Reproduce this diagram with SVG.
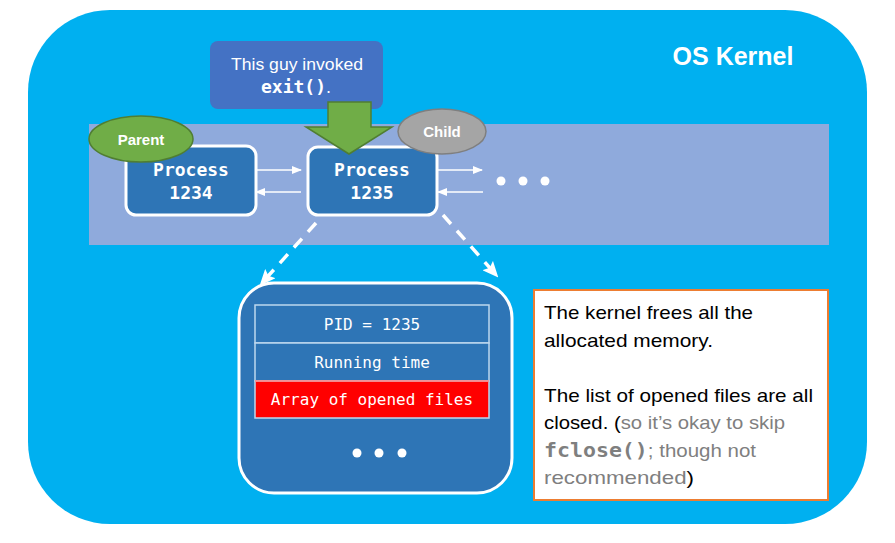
<svg xmlns="http://www.w3.org/2000/svg" width="895" height="543" viewBox="0 0 895 543">
<defs>
<style>
.proc{fill:#2E75B6;stroke:#FFFFFF;stroke-width:3}
.ptxt{font-family:"DejaVu Sans Mono","Liberation Mono",monospace;font-weight:bold;font-size:18px;fill:#FFFFFF;text-anchor:middle}
.ttxt{font-family:"DejaVu Sans Mono","Liberation Mono",monospace;font-size:16px;fill:#FFFFFF;text-anchor:middle}
.sans{font-family:"Liberation Sans","Open Sans",sans-serif}
.conn{stroke:#FFFFFF;stroke-width:1.5;fill:none}
.dash{stroke:#FFFFFF;stroke-width:3.5;stroke-dasharray:12 9;fill:none}
.dot{fill:#FFFFFF}
.gray{fill:#7F7F7F}
</style>
<marker id="ah" markerWidth="10" markerHeight="8" refX="9" refY="4" orient="auto" markerUnits="userSpaceOnUse">
<path d="M0,0 L10,4 L0,8 Z" fill="#FFFFFF"/>
</marker>
<marker id="dh" markerWidth="16" markerHeight="14" refX="14" refY="7" orient="auto" markerUnits="userSpaceOnUse">
<path d="M0,0 L16,7 L0,14 L3,7 Z" fill="#FFFFFF"/>
</marker>
</defs>

<g id="kernel">
<rect x="28" y="10" width="839" height="514" rx="82" ry="82" fill="#00B0F0"/>
<text x="733" y="65" class="sans" font-size="25" font-weight="bold" fill="#FFFFFF" text-anchor="middle">OS Kernel</text>
</g>

<g id="band">
<rect x="89" y="124" width="740" height="121" fill="#8FAADC"/>
</g>

<g id="connectors">
<line x1="257" y1="170" x2="301" y2="170" class="conn" marker-end="url(#ah)"/>
<line x1="301" y1="192" x2="256" y2="192" class="conn" marker-end="url(#ah)"/>
<line x1="438" y1="170" x2="482" y2="170" class="conn" marker-end="url(#ah)"/>
<line x1="483" y1="192" x2="438" y2="192" class="conn" marker-end="url(#ah)"/>
<line x1="316" y1="223" x2="261" y2="284" class="dash" marker-end="url(#dh)"/>
<line x1="443" y1="215" x2="497" y2="276" class="dash" marker-end="url(#dh)"/>
</g>

<g id="more-dots">
<circle cx="501" cy="181" r="4.5" class="dot"/>
<circle cx="523" cy="181" r="4.5" class="dot"/>
<circle cx="545" cy="181" r="4.5" class="dot"/>
</g>

<g id="process1234">
<rect x="126" y="146" width="130" height="69" rx="10" class="proc"/>
<text x="191" y="176" class="ptxt">Process</text>
<text x="191" y="199" class="ptxt">1234</text>
</g>

<g id="process1235">
<rect x="308" y="147" width="129" height="68" rx="10" class="proc"/>
<text x="372" y="176" class="ptxt">Process</text>
<text x="372" y="199" class="ptxt">1235</text>
</g>

<g id="parent">
<ellipse cx="141" cy="139" rx="52" ry="23" fill="#70AD47" stroke="#507E32" stroke-width="1.5"/>
<text x="141" y="145" class="sans" font-size="15" font-weight="bold" fill="#FFFFFF" text-anchor="middle">Parent</text>
</g>

<g id="child">
<ellipse cx="442" cy="131.5" rx="44" ry="22.5" fill="#A5A5A5" stroke="#7F7F7F" stroke-width="1.5"/>
<text x="442" y="137" class="sans" font-size="15" font-weight="bold" fill="#FFFFFF" text-anchor="middle">Child</text>
</g>

<g id="callout">
<rect x="210" y="41" width="173" height="68" rx="8" fill="#4472C4"/>
<text x="297" y="70" class="sans" font-size="17" fill="#FFFFFF" text-anchor="middle" textLength="132" lengthAdjust="spacingAndGlyphs">This guy invoked</text>
<text x="296" y="93" font-size="18" fill="#FFFFFF" text-anchor="middle"><tspan font-family="DejaVu Sans Mono, Liberation Mono, monospace" font-weight="bold">exit()</tspan><tspan font-family="Liberation Sans, sans-serif">.</tspan></text>
</g>

<g id="green-arrow">
<path d="M328,102 L371,102 L371,127 L392,127 L349,154 L306,127 L328,127 Z" fill="#70AD47" stroke="#507E32" stroke-width="1.5"/>
</g>

<g id="pcb">
<rect x="239" y="283" width="273" height="210" rx="35" ry="35" class="proc"/>
<rect x="255" y="305" width="234" height="38" fill="#2E75B6" stroke="#BDD7EE" stroke-width="1.5"/>
<rect x="255" y="343" width="234" height="38" fill="#2E75B6" stroke="#BDD7EE" stroke-width="1.5"/>
<rect x="255" y="381" width="234" height="37" fill="#FF0000" stroke="#BDD7EE" stroke-width="1.5"/>
<line x1="255" y1="381" x2="489" y2="381" stroke="#FF8080" stroke-width="1.5"/>
<text x="372" y="330" class="ttxt">PID = 1235</text>
<text x="372" y="368" class="ttxt">Running time</text>
<text x="372" y="405" class="ttxt">Array of opened files</text>
<circle cx="357" cy="453" r="4.5" class="dot"/>
<circle cx="379" cy="453" r="4.5" class="dot"/>
<circle cx="402" cy="453" r="4.5" class="dot"/>
</g>

<g id="note">
<rect x="534" y="290" width="294" height="210" fill="#FFFFFF" stroke="#ED7D31" stroke-width="2"/>
<g class="sans" font-size="19" fill="#000000">
<text x="544" y="319" textLength="209" lengthAdjust="spacingAndGlyphs">The kernel frees all the</text>
<text x="544" y="347" textLength="169" lengthAdjust="spacingAndGlyphs">allocated memory.</text>
<text x="544" y="402" textLength="269" lengthAdjust="spacingAndGlyphs">The list of opened files are all</text>
<text x="544" y="429" textLength="241" lengthAdjust="spacingAndGlyphs">closed. (<tspan class="gray">so it’s okay to skip</tspan></text>
<text x="544" y="457" textLength="212" lengthAdjust="spacingAndGlyphs"><tspan class="gray" font-family="DejaVu Sans Mono, Liberation Mono, monospace" font-weight="bold" font-size="20">fclose()</tspan><tspan class="gray">; though not</tspan></text>
<text x="544" y="484" textLength="150" lengthAdjust="spacingAndGlyphs"><tspan class="gray">recommended</tspan>)</text>
</g>
</g>
</svg>
